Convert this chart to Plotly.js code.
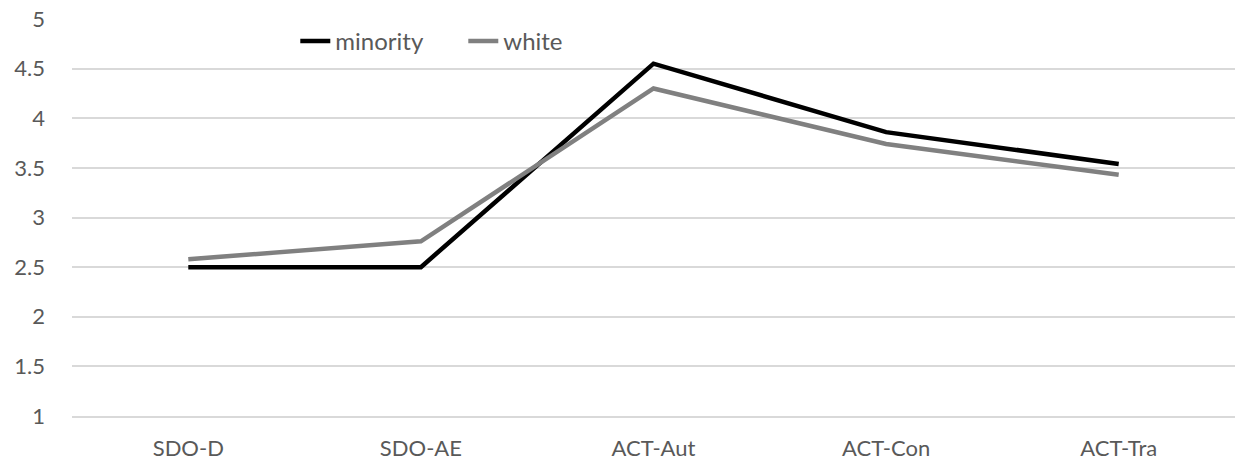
<!DOCTYPE html>
<html>
<head>
<meta charset="utf-8">
<script src="https://cdn.plot.ly/plotly-3.0.1.min.js"></script>
<style>
  html, body { margin: 0; padding: 0; background: #ffffff; }
  #chart { width: 1235px; height: 466px; }
</style>
</head>
<body>
<div id="chart"></div>
<script>
// Scale means per group
const categories = ["SDO-D", "SDO-AE", "ACT-Aut", "ACT-Con", "ACT-Tra"];
const minority = [2.50, 2.50, 4.55, 3.86, 3.54];
const white = [2.58, 2.76, 4.30, 3.74, 3.43];
const yTicks = [1, 1.5, 2, 2.5, 3, 3.5, 4, 4.5, 5];

const fontFamily = "Lato, 'Open Sans', sans-serif";
const textColor = "#595959";

const traces = [
  {
    x: categories, y: minority, name: "minority", type: "scatter", mode: "lines",
    line: { color: "#000000", width: 4.5 }
  },
  {
    x: categories, y: white, name: "white", type: "scatter", mode: "lines",
    line: { color: "#808080", width: 4.5 }
  }
];

const layout = {
  width: 1235, height: 466,
  margin: { l: 72, r: 0, t: 19, b: 50 },
  paper_bgcolor: "#ffffff", plot_bgcolor: "#ffffff",
  font: { family: fontFamily, size: 21, color: textColor },
  showlegend: true,
  legend: {
    orientation: "h", x: 0.192, y: 1.0, xanchor: "left", yanchor: "top",
    bgcolor: "rgba(0,0,0,0)", font: { family: fontFamily, size: 24, color: textColor },
    itemwidth: 30, tracegroupgap: 0, entrywidth: 123, entrywidthmode: "pixels"
  },
  xaxis: {
    type: "category", range: [-0.5, 4.5], showgrid: false, zeroline: false,
    showline: true, linecolor: "#d9d9d9", linewidth: 2, ticks: "",
    tickfont: { size: 22 }, ticklabelstandoff: 12, fixedrange: true
  },
  yaxis: {
    range: [1, 5], tickvals: yTicks, ticktext: yTicks.map(String),
    showgrid: true, gridcolor: "#d9d9d9", gridwidth: 2, zeroline: false,
    showline: false, ticks: "", tickfont: { size: 22 }, ticklabelstandoff: 26, fixedrange: true
  }
};

Plotly.newPlot("chart", traces, layout, { displayModeBar: false, staticPlot: true });
</script>
</body>
</html>
